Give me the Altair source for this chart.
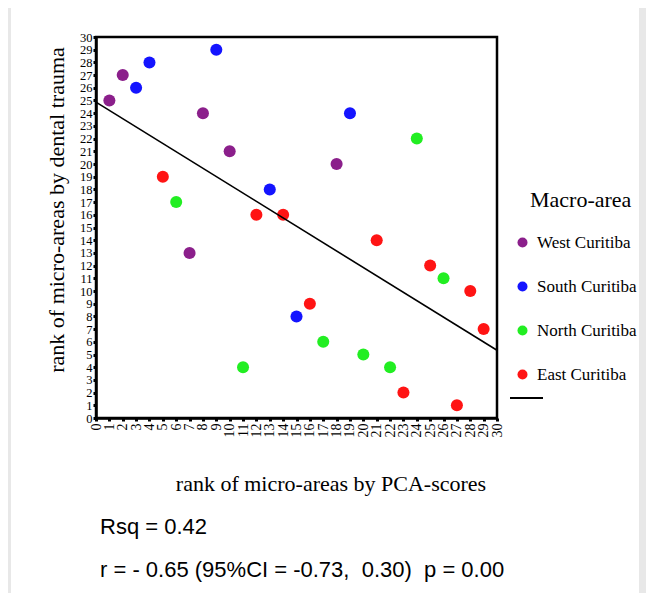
import altair as alt
import pandas as pd

# ---- data ----
pca_rank = [1, 2, 8, 10, 18, 7,
            3, 4, 9, 13, 19, 15,
            6, 24, 11, 17, 20, 22, 26,
            5, 12, 14, 21, 25, 28, 29, 16, 23, 27]
trauma_rank = [25, 27, 24, 21, 20, 13,
               26, 28, 29, 18, 24, 8,
               17, 22, 4, 6, 5, 4, 11,
               19, 16, 16, 14, 12, 10, 7, 9, 2, 1]
macro_area = (["West Curitiba"] * 6 + ["South Curitiba"] * 6 +
              ["North Curitiba"] * 7 + ["East Curitiba"] * 10)

area_order = ["West Curitiba", "South Curitiba", "North Curitiba", "East Curitiba"]
area_colors = ["#8B1F8B", "#1414FF", "#22EE22", "#FF1414"]
tick_values = list(range(0, 31))

x_title = "rank of micro-areas by PCA-scores"
y_title = "rank of micro-areas by dental trauma"
legend_title = "Macro-area"
stat_lines = ["Rsq = 0.42",
              "r = - 0.65 (95%CI = -0.73,\u00a0\u00a00.30)\u00a0\u00a0p = 0.00"]

df = pd.DataFrame({"pca": pca_rank, "trauma": trauma_rank, "area": macro_area})

SERIF = "Liberation Serif"
SANS = "Liberation Sans"
W, H = 401, 381

xscale = alt.Scale(domain=[0, 30], nice=False, zero=False)
yscale = alt.Scale(domain=[0, 30], nice=False, zero=False)

axis_common = dict(values=tick_values, grid=False, labelFont=SERIF,
                   labelColor="black", tickColor="black", tickSize=3, tickWidth=3,
                   domainColor="black", domainWidth=2.5, labelOverlap=False,
                   labelFlush=False, title=None, zindex=1, tickCount=31)
x_axis = alt.Axis(labelAngle=270, labelAlign="right", labelBaseline="middle",
                  labelPadding=2, labelFontSize=14, **axis_common)
y_axis = alt.Axis(labelPadding=1, labelBaseline="middle", labelFontSize=12.5, **axis_common)

one = pd.DataFrame({"a": [0]})
# grey strips at the page edges
strip_right = alt.Chart(one).mark_rect(color="#e8e8e8").encode(
    x=alt.value(543), x2=alt.value(560), y=alt.value(-40), y2=alt.value(570)
)
strip_left = alt.Chart(one).mark_rect(color="#e8e8e8").encode(
    x=alt.value(-100), x2=alt.value(-85), y=alt.value(-40), y2=alt.value(570)
)

points = alt.Chart(df).mark_circle(size=145, opacity=1).encode(
    x=alt.X("pca:Q", scale=xscale, axis=x_axis),
    y=alt.Y("trauma:Q", scale=yscale, axis=y_axis),
    color=alt.Color("area:N", scale=alt.Scale(domain=area_order, range=area_colors),
                    legend=alt.Legend(orient="none", legendX=418, legendY=197,
                                      title=None, labelFont=SERIF, labelFontSize=17,
                                      labelColor="black", symbolSize=100,
                                      symbolType="circle", symbolStrokeWidth=0,
                                      rowPadding=26, labelOffset=6, padding=0)),
)

fit = alt.Chart(df).transform_regression(
    "pca", "trauma", extent=[0, 30]
).mark_line(color="black", strokeWidth=1.6).encode(
    x=alt.X("pca:Q", scale=xscale, axis=x_axis),
    y=alt.Y("trauma:Q", scale=yscale, axis=y_axis)
)

legend_line = alt.Chart(one).mark_rule(color="black", strokeWidth=2).encode(
    x=alt.value(414), x2=alt.value(447), y=alt.value(361)
)

def label(text, x, y, font, size, align="left", angle=0):
    return alt.Chart(pd.DataFrame({"t": [text]})).mark_text(
        font=font, fontSize=size, color="black", align=align, baseline="middle", angle=angle
    ).encode(text="t:N", x=alt.value(x), y=alt.value(y))

texts = [
    label(x_title, 235, 447, SERIF, 22, align="center"),
    label(y_title, -39, 173, SERIF, 22, align="center", angle=270),
    label(legend_title, 434, 163, SERIF, 22),
    label(stat_lines[0], 4, 490, SANS, 22),
    label(stat_lines[1], 4, 533, SANS, 22),
]

chart = alt.layer(strip_left, strip_right, points, fit, legend_line, *texts).properties(
    width=W, height=H,
    autosize=alt.AutoSizeParams(type="none"),
    padding={"left": 88, "top": 29, "right": 149, "bottom": 175},
    background="white",
).configure_view(stroke="black", strokeWidth=2.5)

chart.save("out.html", embed_options={"renderer": "svg", "actions": False})
